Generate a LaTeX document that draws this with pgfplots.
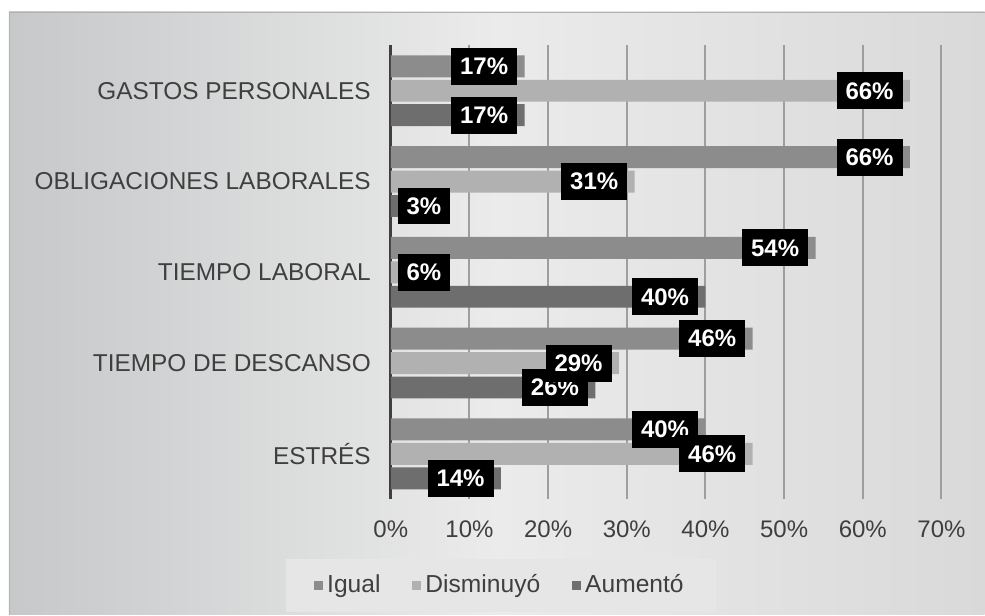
\documentclass[border=0pt]{standalone}
\usepackage{pgfplots}
\usepackage{pgfplotstable}
\pgfplotsset{compat=1.18}
\usepackage{fontspec}
\setmainfont{Liberation Sans}
\definecolor{cIgual}{HTML}{8C8C8C}
\definecolor{cDism}{HTML}{B1B1B1}
\definecolor{cAum}{HTML}{6E6E6E}
\definecolor{txt}{HTML}{3F3F3F}
\definecolor{bgL}{HTML}{C6C8C9}
\definecolor{bgM}{HTML}{EBEBEB}
\definecolor{bgR}{HTML}{D9D9D9}
\definecolor{gridc}{HTML}{9E9E9E}
\definecolor{legbg}{HTML}{E6E6E6}
\pgfplotstableread{
cat igual dism aum
0 40 46 14
1 46 29 26
2 54 6 40
3 66 31 3
4 17 66 17
}\datatab
\pgfplotsset{
  mybar/.style={xbar, bar width=11pt, draw=none,
    legend image code/.code={\fill[##1] (0pt,-2.25pt) rectangle (4.5pt,2.25pt);}},
  mylab/.style={xbar, bar width=11pt, draw=none, fill=none, forget plot,
    point meta=rawx,
    visualization depends on={rawx \as \xval},
    nodes near coords={\pgfmathprintnumber[fixed,precision=0]{\pgfplotspointmeta}\%},
    every node near coord/.append style={anchor=east, fill=black, text=white,
      font=\fontsize{12}{14}\selectfont\bfseries, inner xsep=4.5pt, inner ysep=0pt,
      minimum height=18.5pt, xshift={max(-3.5,(7.6-\xval)*3.935)*1pt}, yshift=#1}},
}
\begin{document}
\begin{tikzpicture}
\fill[white] (0,0) rectangle (492.5pt,307.5pt);
\shade[left color=bgL, right color=bgR, middle color=bgM] (4.5pt,0) rectangle (492.5pt,301.5pt);
\draw[color=black!30, line width=0.5pt] (4.75pt,0) -- (4.75pt,301.25pt) -- (492.5pt,301.25pt);
\begin{axis}[
  at={(195.5pt,57.8pt)}, anchor=south west,
  x=3.935pt, y=45.4pt,
  xmin=0, xmax=70, ymin=-0.5, ymax=4.5,
  axis x line*=bottom, axis y line*=left,
  axis line style={-},
  x axis line style={draw=none},
  y axis line style={draw=txt, line width=1.5pt},
  xtick={0,10,...,70},
  ytick={0,1,2,3,4},
  yticklabels={ESTRÉS, TIEMPO DE DESCANSO, TIEMPO LABORAL, OBLIGACIONES LABORALES, GASTOS PERSONALES},
  major tick length=0pt,
  tick style={draw=none},
  xmajorgrids,
  major grid style={draw=gridc, line width=1pt},
  xticklabel={\pgfmathprintnumber{\tick}\%},
  /pgf/number format/assume math mode=true,
  tick label style={font=\fontsize{12}{14}\selectfont, text=txt},
  xticklabel style={yshift=-7.3pt},
  yticklabel style={xshift=-6.5pt, font=\fontsize{12.2}{14}\selectfont},
  legend columns=3,
  legend style={at={(0.2,-0.19)}, anchor=center, fill=legbg, draw=none,
    font=\fontsize{12.3}{14}\selectfont, text=txt, inner xsep=14pt, inner ysep=6pt,
    nodes={inner xsep=2pt},
    /tikz/every even column/.append style={column sep=14pt}},
  clip=false,
]
\addplot[mybar, bar shift=12.25pt, fill=cIgual] table[x=igual, y=cat] {\datatab};
\addlegendentry{Igual}
\addplot[mybar, bar shift=0pt, fill=cDism] table[x=dism, y=cat] {\datatab};
\addlegendentry{Disminuyó}
\addplot[mybar, bar shift=-12.25pt, fill=cAum] table[x=aum, y=cat] {\datatab};
\addlegendentry{Aumentó}
\addplot[mylab={12.25pt}, bar shift=12.25pt] table[x=igual, y=cat] {\datatab};
\addplot[mylab={-12.25pt}, bar shift=-12.25pt] table[x=aum, y=cat] {\datatab};
\addplot[mylab={0pt}, bar shift=0pt] table[x=dism, y=cat] {\datatab};
\end{axis}
\end{tikzpicture}
\end{document}
